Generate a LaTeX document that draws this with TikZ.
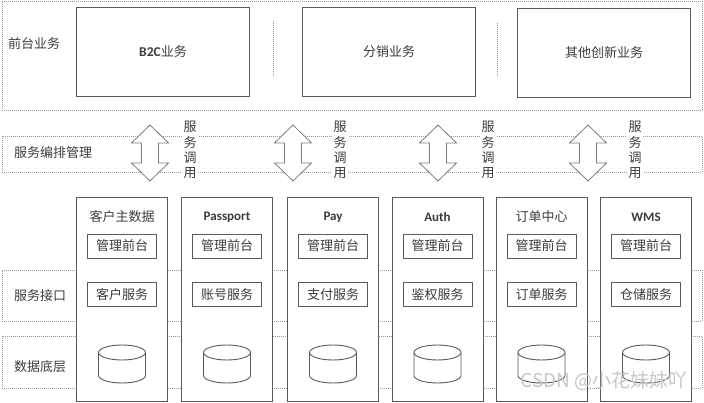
\documentclass[tikz,border=0pt]{standalone}
\usepackage{fontspec}
\setmainfont{Noto Sans CJK SC}
\newfontfamily\latinfont{Carlito}
\definecolor{textc}{HTML}{3C3C3C}
\definecolor{boxc}{HTML}{5A5A5A}
\definecolor{dotc}{HTML}{9A9A9A}
\begin{document}
\begin{tikzpicture}[x=1pt,y=-1pt,
  every node/.style={text=textc, font=\fontsize{13}{15.3}\selectfont},
  band/.style={draw=dotc, dash pattern=on 1pt off 1pt, line width=0.8pt, anchor=north west, inner sep=0pt},
  sepline/.style={draw=dotc, dash pattern=on 1pt off 1pt, line width=0.8pt},
  bizbox/.style={draw=boxc, line width=1pt, fill=white, anchor=north west, inner sep=0pt},
  colbox/.style={draw=boxc, line width=1pt, fill=white, anchor=north, minimum width=91pt, minimum height=204pt, inner sep=0pt},
  innerbox/.style={draw=boxc, line width=0.9pt, minimum width=69pt, minimum height=24pt, inner sep=0pt},
  arrowshape/.style={draw=boxc!80, line width=0.8pt, fill=white},
  calltext/.style={align=center, fill=white, inner sep=1.5pt},
  lefttext/.style={anchor=west, inner sep=0pt},
  cyl/.style={draw=boxc, line width=0.9pt, fill=white},
  latin/.style={font=\latinfont\bfseries\fontsize{13}{15}\selectfont}
]
\useasboundingbox (0,0) rectangle (704,403);

% bands
\node[band, minimum width=700pt, minimum height=109pt] (front) at (2,1) {};
\node[band, minimum width=700pt, minimum height=36pt] (orch) at (2,136) {};
\node[band, minimum width=700pt, minimum height=51pt] (iface) at (2,270) {};
\node[band, minimum width=700pt, minimum height=52pt] (data) at (2,336) {};

% left labels
\node[lefttext] (lfront) at (8,44) {前台业务};
\node[lefttext] (lorch) at (14,153) {服务编排管理};
\node[lefttext] (liface) at (14,296) {服务接口};
\node[lefttext] (ldata) at (14,367) {数据底层};

% front business boxes
\node[bizbox, minimum width=173pt, minimum height=89pt] (b2c) at (76,7) {};
\node at (b2c.center) {{\latinfont\bfseries\fontsize{13.5}{15}\selectfont B2C}业务};
\node[bizbox, minimum width=173pt, minimum height=89pt] (dist) at (302,7) {};
\node at (dist.center) {分销业务};
\node[bizbox, minimum width=173pt, minimum height=89pt] (other) at (517,8) {};
\node at (other.center) {其他创新业务};
\coordinate (s1a) at (273,21); \coordinate (s1b) at (273,76);
\coordinate (s2a) at (497,23); \coordinate (s2b) at (497,77);
\draw[sepline] (s1a) -- (s1b);
\draw[sepline] (s2a) -- (s2b);

% double arrows and call text
\foreach \x/\t [count=\i] in {150/190, 293/340, 438/488, 588/635} {
  \draw[arrowshape] (\x,125) -- (\x+18.5,143) -- (\x+8.5,143) -- (\x+8.5,163) -- (\x+18.5,163)
     -- (\x,181) -- (\x-18.5,163) -- (\x-8.5,163) -- (\x-8.5,143) -- (\x-18.5,143) -- cycle;
  \node[calltext] (call\i) at (\t,150) {服\\务\\调\\用};
}

% columns
\foreach \c/\title/\svc/\lat [count=\i] in {
  122/客户主数据/客户服务/0,
  227/Passport/账号服务/1,
  333/Pay/支付服务/1,
  437.5/Auth/鉴权服务/1,
  541.5/订单中心/订单服务/0,
  646/WMS/仓储服务/1} {
  \node[colbox] (col\i) at (\c,197) {};
  \ifnum\lat=1
    \node[latin] (title\i) at (\c,217) {\title};
  \else
    \node (title\i) at (\c,217) {\title};
  \fi
  \node[innerbox] (mgr\i) at (\c,246) {管理前台};
  \node[innerbox] (svc\i) at (\c,294.5) {\svc};
  \draw[cyl] (\c-23.5,352.5) -- (\c-23.5,375.5) arc[start angle=180, end angle=0, x radius=23.5, y radius=7.5] -- (\c+23.5,352.5);
  \draw[cyl] (\c,352.5) ellipse [x radius=23.5, y radius=7.5];
}

% watermark
\node[text=gray!45, font=\fontsize{19}{21}\selectfont, anchor=east] (wm) at (691,381) {CSDN @小花妹妹吖};
\end{tikzpicture}
\end{document}
